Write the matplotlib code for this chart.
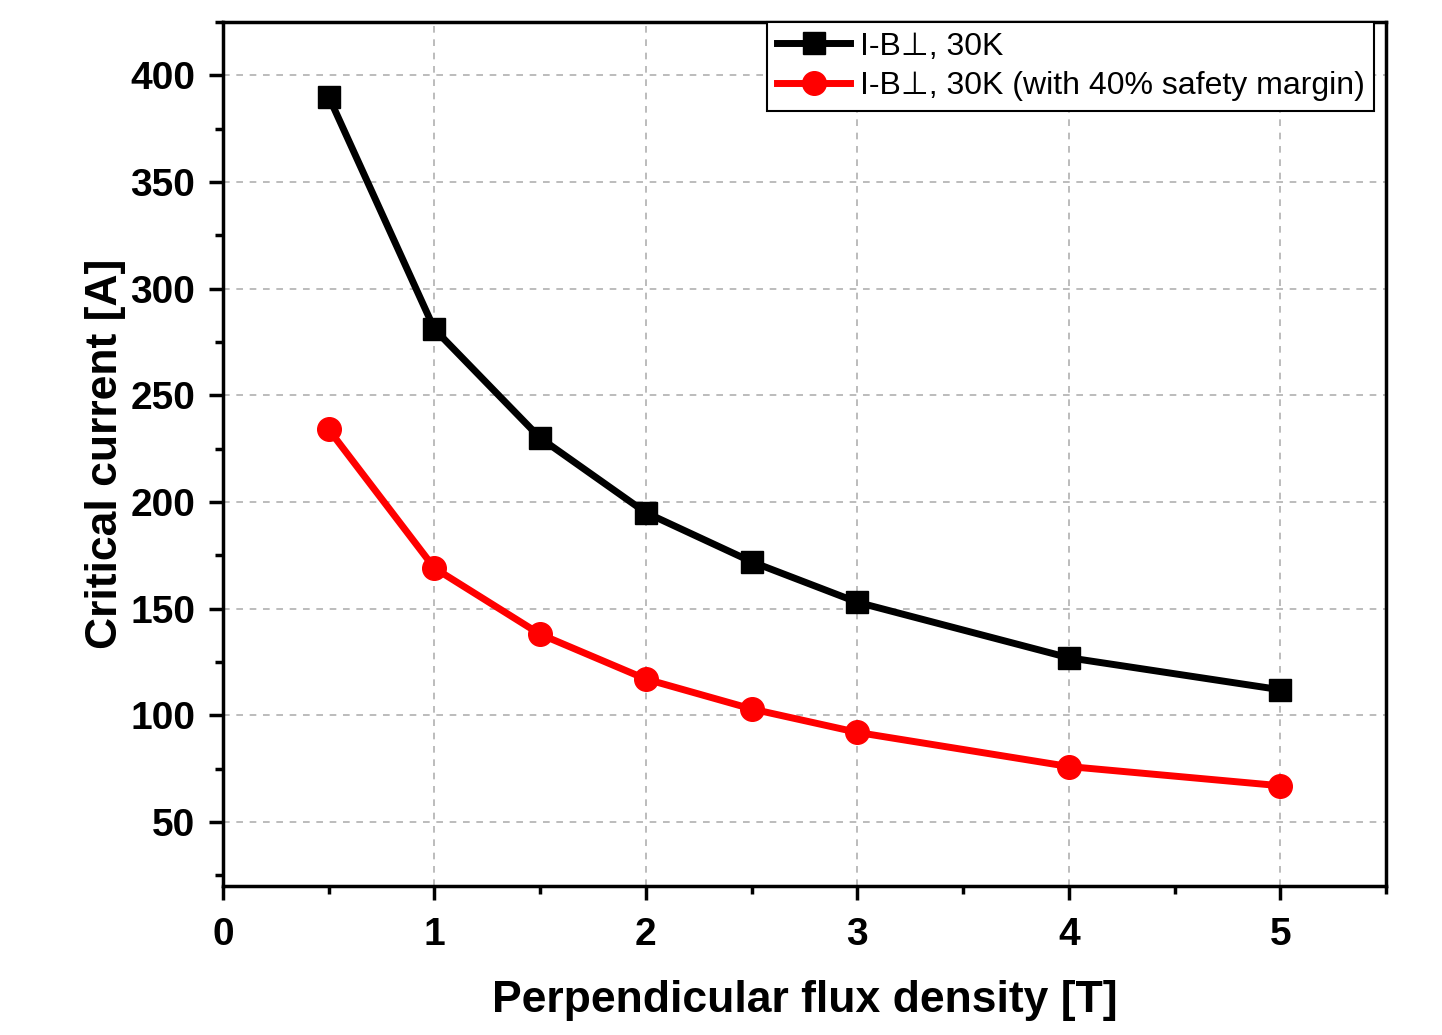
import matplotlib
matplotlib.use("Agg")
import matplotlib.pyplot as plt
from matplotlib.ticker import MultipleLocator

plt.rcParams['font.family'] = ['Liberation Sans', 'DejaVu Sans']

flux = [0.5, 1, 1.5, 2, 2.5, 3, 4, 5]
ic_30k = [390, 281, 230, 195, 172, 153, 127, 112]
ic_30k_margin = [234, 169, 138, 117, 103, 92, 76, 67]
labels = ["I-B\u22a5, 30K", "I-B\u22a5, 30K (with 40% safety margin)"]

fig = plt.figure(figsize=(14.42, 10.35), dpi=100)
ax = fig.add_axes([223/1442, 1-886/1035, (1386-223)/1442, (886-22)/1035])

ax.plot(flux, ic_30k, color='black', lw=5, marker='s', ms=16, label=labels[0], zorder=3)
ax.plot(flux, ic_30k_margin, color='#ff0000', lw=5, marker='o', ms=17, label=labels[1], zorder=3)

ax.set_xlim(0, 5.5)
ax.set_ylim(20, 425)
ax.xaxis.set_major_locator(MultipleLocator(1))
ax.xaxis.set_minor_locator(MultipleLocator(0.5))
ax.yaxis.set_major_locator(MultipleLocator(50))
ax.yaxis.set_minor_locator(MultipleLocator(25))
ax.set_yticks([50, 100, 150, 200, 250, 300, 350, 400])

ax.grid(True, which='major', color='#b0b0b0', ls=(0, (4, 4)), lw=1.2)
for s in ax.spines.values():
    s.set_linewidth(2.5)
ax.tick_params(which='major', direction='out', length=10, width=2.5, labelsize=28, pad=10)
ax.tick_params(axis='x', which='major', pad=12)
ax.tick_params(which='minor', direction='out', length=6, width=2.5)
for lab in ax.get_xticklabels() + ax.get_yticklabels():
    lab.set_fontweight('bold')

ax.set_xlabel('Perpendicular flux density [T]', fontsize=32, fontweight='bold', labelpad=20)
ax.set_ylabel('Critical current [A]', fontsize=32, fontweight='bold', labelpad=3)

leg = ax.legend(loc='upper right', bbox_to_anchor=(0.99, 1.0), fontsize=23, frameon=True,
                fancybox=False, edgecolor='black', framealpha=1, borderpad=0.3,
                handlelength=2.3, handletextpad=0.3, labelspacing=0.3, borderaxespad=0)
leg.get_frame().set_linewidth(1.5)

fig.savefig('out.png', dpi=100)
